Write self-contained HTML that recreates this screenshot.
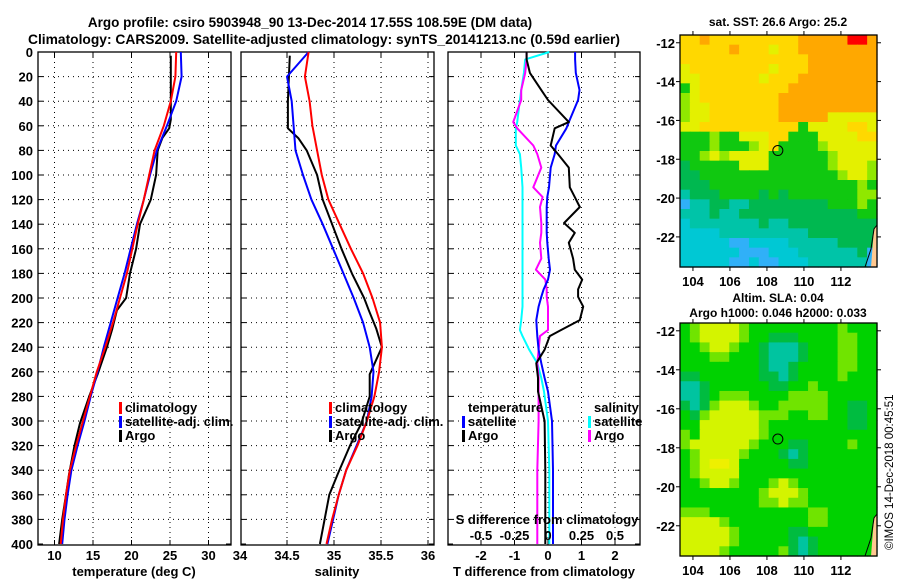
<!DOCTYPE html>
<html><head><meta charset="utf-8"><style>
html,body{margin:0;padding:0;background:#fff;}
svg{display:block;font-family:"Liberation Sans",sans-serif;font-weight:bold;}
</style></head><body>
<svg id="fig" width="900" height="580" viewBox="0 0 900 580" xmlns="http://www.w3.org/2000/svg">
<rect width="900" height="580" fill="#fff"/>
<text x="310" y="27" font-size="13.5" text-anchor="middle">Argo profile: csiro 5903948_90 13-Dec-2014 17.55S 108.59E (DM data)</text>
<text x="324" y="44" font-size="13.5" text-anchor="middle" textLength="592" lengthAdjust="spacingAndGlyphs">Climatology: CARS2009. Satellite-adjusted climatology: synTS_20141213.nc (0.59d earlier)</text>
<g id="maps"></g>
<g id="plots"></g>
<text transform="translate(893,550) rotate(-90)" font-size="11.5" font-weight="normal">©IMOS 14-Dec-2018 00:45:51</text>
</svg>
<script>
// ---------- data ----------
const depths = [0,20,40,60,80,100,120,140,160,180,200,220,240,260,280,300,320,340,360,380,400];
const tempClim = [25.8,25.7,25.1,24.2,23.0,22.3,21.6,20.8,20.1,19.4,18.5,17.6,16.6,15.5,14.6,13.7,12.8,12.0,11.5,11.1,10.8];
const tempSat  = [26.4,26.5,25.8,24.6,23.3,22.4,21.6,20.7,19.9,19.1,18.2,17.3,16.4,15.6,14.7,13.9,13.0,12.2,11.7,11.3,11.0];
const argoDepths = [3,20,40,55,62,70,80,100,120,140,160,180,200,210,225,240,262,280,302,320,343,360,380,400];
const tempArgo = [25.1,25.1,25.1,25.1,24.9,24.0,23.4,23.2,22.5,21.1,20.6,19.8,19.3,18.1,17.5,16.8,15.6,14.5,13.3,12.6,11.9,11.5,11.0,10.6];
const salClim = [34.73,34.69,34.74,34.77,34.82,34.87,34.94,35.06,35.18,35.31,35.41,35.49,35.51,35.48,35.43,35.35,35.25,35.13,35.05,34.98,34.92];
const salSat  = [34.73,34.50,34.55,34.57,34.59,34.67,34.76,34.88,34.99,35.10,35.21,35.31,35.38,35.42,35.40,35.35,35.24,35.13,35.05,34.99,34.93];
const salArgo = [34.53,34.52,34.51,34.51,34.51,34.62,34.71,34.82,34.88,34.98,35.08,35.19,35.32,35.37,35.45,35.51,35.38,35.38,35.29,35.17,35.04,34.95,34.90,34.85];
const dDepths = [0,6,17,31,39,57,62,76,83,94,110,118,126,139,147,155,168,177,185,193,199,207,218,226,231,242,253,265,276,300,340,400];
const dTempSat  = [0.81,0.81,0.83,0.94,0.90,0.62,0.55,0.24,0.20,0.08,0.03,-0.02,-0.04,-0.04,-0.04,-0.02,0.02,0.06,0.0,-0.13,-0.2,-0.28,-0.35,-0.33,-0.32,-0.28,-0.2,-0.1,0.0,0.12,0.15,0.15];
const dTempArgo = [-0.64,-0.64,-0.54,-0.2,0.0,0.62,0.2,0.08,0.3,0.62,0.65,0.8,0.95,0.48,0.8,0.62,0.75,0.8,1.02,0.9,0.9,1.05,0.95,0.39,0.05,-0.1,-0.35,-0.3,-0.3,-0.1,-0.08,-0.08];
const dSalSat  = [0.01,-0.17,-0.18,-0.2,-0.21,-0.23,-0.24,-0.24,-0.21,-0.2,-0.19,-0.19,-0.19,-0.19,-0.19,-0.19,-0.19,-0.19,-0.19,-0.19,-0.19,-0.19,-0.2,-0.21,-0.19,-0.14,-0.08,-0.05,-0.03,0.0,0.01,0.01];
const dSalArgo = [-0.16,-0.16,-0.17,-0.2,-0.2,-0.26,-0.23,-0.11,-0.08,-0.05,-0.11,-0.04,-0.06,-0.05,-0.05,-0.06,-0.05,-0.09,-0.02,-0.01,-0.01,0.0,0.0,0.0,-0.06,-0.07,-0.08,-0.07,-0.07,-0.07,-0.08,-0.08];
const depthTicks = [0,20,40,60,80,100,120,140,160,180,200,220,240,260,280,300,320,340,360,380,400];
const tempTicks = [10,15,20,25,30];
const salTicks = [34,34.5,35,35.5,36];
const dTempTicks = [-2,-1,0,1,2];
const dSalTicks = [-0.5,-0.25,0,0.25,0.5];
const dSalTickLabels = ["-0.5","-0.25","0","0.25","0.5"];
const lonTicks = [104,106,108,110,112];
const latTicks = [-12,-14,-16,-18,-20,-22];
const argoLon = 108.59, argoLat = -17.55;
const sstGrid = [
"YYOYYYYYYYYYOOOOORRO","YYYYYOYYYLYYOOOOOOOO","YYYYYYYYYYYYYOOOOOOO","LYYYYYYYYLYYYOOOOOOO",
"LLYYYYYYLYYYOOOOOOOO","GLYYYYYYYYYOOOOOOOOO","lLYYYYYYYYOOOOOOOOOO","lLLYYYYYYYOOOOOOOOOO",
"lLLYYYYYYYOOOOOLLLLL","LLYYYYYYYYYYGLLLLYYL","GGGlGGLLLYYGGGLLLLYY","GGGlGGGlLYGGGGlLLLLL",
"GGlLlLLLLGGGGGGlLLLL","MGGGGGLLLGGGGGGlLLLl","MMGGGGGGGGGGGGGGlLLl","MMMGGGGGGGGGGGGGGGlG",
"TMMMGGGGMGMGGGGGGGll","BTTMMTTMMMMMMMMGGGlG","TTTMTTMMMMMMMMMMMMGG","CTTTTTTTMTTMMMMMMMMM",
"CCCCTTTTTTTTTMMMMMMM","CCCCCBBCCCCTTTTTMMMM","CCCCCCBBBCCCTTTTTTMB","CCCCCBBCBBCCCTTTTTTB"];
const slaGrid = [
"GlYYYYlGGGGGGGGGlGGG","GlYYYYlGGDDDGGGGllGG","GGlYYlGGDTTTDGGGllGG","GGGllGGGDTTTDGGGllGG",
"GGGGGGGGDTTDGGGGllGG","DDGGGGGGDDTDGGGGlGGG","TTDGGGGGGDDGGlGGGGGG","TTDGlllGGGGllllGGGGG",
"DTDlYYYlGGlllllGGDDG","GDlYYYYYlllGGllGGDDG","GGYYYYYYlGGGGGGGGDDG","lGYYYYYYlGGGGGGGGGGG",
"lYYYYYYlGGGDDGGGGlGG","GlYYYYlGGGDTDGGGGGGG","GlYyyYGGGGGDDGGGGGGG","GlYYYYGGGGGGGGGGGGGG",
"GGlYYlGGGlYlGGGGGGGG","GGGGGGGGlYYYlGGGGGGG","GGGGGGGGllYllGGGGGGG","lllGGGGGGGGGGllGGGGG",
"YYYYlGGGGGGGGllGGGGG","YYYYYlGGGGGDDGGGGGGG","YYYYYlGGGGGDTDGGGGGG","YYYYlGGGGGlDTDGGGGGG"];
const sstColors = {O:"#ffa800",Y:"#ffd800",L:"#e4f000",l:"#90e800",G:"#10c810",M:"#00b850",T:"#00c4a8",C:"#00c8d4",B:"#30b0f8",R:"#ff0000"};
const slaColors = {G:"#00d200",D:"#00bc40",T:"#00c4a0",l:"#70e400",Y:"#d4f400",y:"#eef000"};

// ---------- helpers ----------
const NS="http://www.w3.org/2000/svg";
function mk(parent,tag,attrs){const e=document.createElementNS(NS,tag);for(const k in attrs)e.setAttribute(k,attrs[k]);parent.appendChild(e);return e;}
function txt(parent,x,y,s,anchor,size){const t=mk(parent,'text',{x:x,y:y,'text-anchor':anchor||'middle','font-size':size||13});t.textContent=s;return t;}
const Y0=52,Y1=545;
const yD=d=>Y0+d*(Y1-1-Y0)/400;
const xT=t=>54.5+(t-10)*7.7;
const xS=s=>240+(s-34)*94;
const xDT=v=>548+v*33.5;
const xDS=v=>548+v*4*33.5;

const plots=document.getElementById('plots');
function panel(name,x0,x1,xf,ticks,labels,showY){
  const g=mk(plots,'g',{});
  
  
  depthTicks.forEach(d=>{
    const y=yD(d);
    if(d>0&&d<400) mk(g,'line',{x1:x0,x2:x1,y1:y,y2:y,stroke:'#000','stroke-width':1,'stroke-dasharray':'1,4'});
    mk(g,'line',{x1:x0,x2:x0+5,y1:y,y2:y,stroke:'#000'});
    mk(g,'line',{x1:x1-5,x2:x1,y1:y,y2:y,stroke:'#000'});
    if(showY){const t=txt(g,33,y+5,String(d),'end');}
  });
  ticks.forEach((v,i)=>{
    const x=xf(v);
    if(x>x0+1&&x<x1-1){mk(g,'line',{x1:x,x2:x,y1:Y0,y2:Y1,stroke:'#000','stroke-dasharray':'1,4'});
      mk(g,'line',{x1:x,x2:x,y1:Y0,y2:Y0+5,stroke:'#000'});mk(g,'line',{x1:x,x2:x,y1:Y1-5,y2:Y1,stroke:'#000'});}
    const t=txt(g,x,560,labels[i]);
    
    
  });
  mk(g,'rect',{x:x0,y:Y0,width:x1-x0,height:Y1-Y0,fill:'none',stroke:'#000','stroke-width':1.3});
  return g;
}
function series(g,name,xs,ds,xf,color,w){
  const p=mk(g,'polyline',{points:xs.map((v,i)=>xf(v).toFixed(1)+','+yD(ds[i]).toFixed(1)).join(' '),fill:'none',stroke:color,'stroke-width':w||2,'stroke-linejoin':'round'});
  
  
}
function legendEntry(g,name,x,y,color,label){
  const e=mk(g,'g',{});
  
  
  if(color) mk(e,'rect',{x:x-6,y:y-10,width:3,height:12,fill:color});
  txt(e,x,y,label,'start');
}

// Panel 1: temperature
const g1=panel('temperature-panel',38,231,xT,tempTicks,tempTicks.map(String),true);
series(g1,'temp-argo-line',tempArgo,argoDepths,xT,'#000');
series(g1,'temp-satellite-line',tempSat,depths,xT,'#0000ff');
series(g1,'temp-climatology-line',tempClim,depths,xT,'#ff0000');
legendEntry(g1,'legend-climatology',125,412,'#ff0000','climatology');
legendEntry(g1,'legend-satellite-adj',125,426,'#0000ff','satellite-adj. clim.');
legendEntry(g1,'legend-argo',125,440,'#000','Argo');
txt(g1,134,576,'temperature (deg C)');

// Panel 2: salinity
const g2=panel('salinity-panel',241,434,xS,salTicks,salTicks.map(String),false);
series(g2,'sal-argo-line',salArgo,argoDepths,xS,'#000');
series(g2,'sal-satellite-line',salSat,depths,xS,'#0000ff');
series(g2,'sal-climatology-line',salClim,depths,xS,'#ff0000');
legendEntry(g2,'legend-climatology',335,412,'#ff0000','climatology');
legendEntry(g2,'legend-satellite-adj',335,426,'#0000ff','satellite-adj. clim.');
legendEntry(g2,'legend-argo',335,440,'#000','Argo');
txt(g2,337,576,'salinity');

// Panel 3: differences
const g3=panel('difference-panel',448,640,xDT,dTempTicks,dTempTicks.map(String),false);
series(g3,'dsal-satellite-line',dSalSat,dDepths,xDS,'#00ffff');
series(g3,'dsal-argo-line',dSalArgo,dDepths,xDS,'#ff00ff');
series(g3,'dtemp-satellite-line',dTempSat,dDepths,xDT,'#0000ff');
series(g3,'dtemp-argo-line',dTempArgo,dDepths,xDT,'#000');
txt(g3,468,412,'temperature','start');
legendEntry(g3,'legend-t-satellite',468,426,'#0000ff','satellite');
legendEntry(g3,'legend-t-argo',468,440,'#000','Argo');
txt(g3,594,412,'salinity','start');
legendEntry(g3,'legend-s-satellite',594,426,'#00ffff','satellite');
legendEntry(g3,'legend-s-argo',594,440,'#ff00ff','Argo');
txt(g3,547,524,'S difference from climatology');
dSalTicks.forEach((v,i)=>{const t=txt(g3,xDS(v),540,dSalTickLabels[i]);});
txt(g3,544,576,'T difference from climatology');

// ---------- maps ----------
const maps=document.getElementById('maps');
const LON0=103.3,LON1=113.95,LAT0=-11.6,LAT1=-23.55;
function drawMap(name,grid,colors,top,bottom,lonLabelY){
  const g=mk(maps,'g',{});
  
  
  const L=680,R=877;
  const xl=lon=>L+(lon-LON0)/(LON1-LON0)*(R-L);
  const yl=lat=>top+(lat-LAT0)/(LAT1-LAT0)*(bottom-top);
  const rows=grid.length,cols=grid[0].length;
  const cw=(R-L)/cols,ch=(bottom-top)/rows;
  grid.forEach((row,r)=>{for(let c=0;c<cols;c++){
    const cell=mk(g,'rect',{x:(L+c*cw).toFixed(2),y:(top+r*ch).toFixed(2),width:(cw+0.6).toFixed(2),height:(ch+0.6).toFixed(2),fill:colors[row[c]]});
    
    
  }});
  // coast
  mk(g,'polygon',{points:`${R-3},${bottom-38} ${R},${bottom-42} ${R},${bottom} ${R-6},${bottom}`,fill:'#ffc890'});
  mk(g,'polyline',{points:`${R-12},${bottom} ${R-6},${bottom-18} ${R-3},${bottom-38} ${R},${bottom-42}`,fill:'none',stroke:'#000','stroke-width':1});
  const m=mk(g,'circle',{cx:xl(argoLon),cy:yl(argoLat),r:5,fill:'none',stroke:'#000','stroke-width':1});
  
  
  mk(g,'rect',{x:L,y:top,width:R-L,height:bottom-top,fill:'none',stroke:'#000','stroke-width':1.3});
  lonTicks.forEach(v=>{const x=xl(v);mk(g,'line',{x1:x,x2:x,y1:top-4,y2:top,stroke:'#000'});mk(g,'line',{x1:x,x2:x,y1:bottom,y2:bottom+4,stroke:'#000'});
    const t=txt(g,x,lonLabelY,String(v));});
  latTicks.forEach(v=>{const y=yl(v);mk(g,'line',{x1:L-4,x2:L,y1:y,y2:y,stroke:'#000'});mk(g,'line',{x1:R,x2:R+4,y1:y,y2:y,stroke:'#000'});
    const t=txt(g,675,y+5,String(v),'end');});
  return g;
}
drawMap('sst-map',sstGrid,sstColors,35,267,286);
drawMap('sla-map',slaGrid,slaColors,323,556,575);
txt(maps,778,26,'sat. SST: 26.6 Argo: 25.2',null,12);
txt(maps,778,302,'Altim. SLA: 0.04',null,12);
txt(maps,778,317,'Argo h1000: 0.046 h2000: 0.033',null,12);
</script>
</body></html>
